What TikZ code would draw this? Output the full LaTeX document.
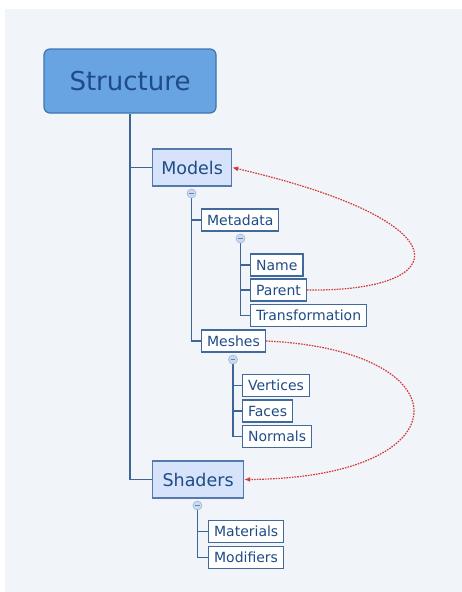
\documentclass[tikz,border=0pt]{standalone}
\usepackage{fontspec}
\setmainfont{DejaVu Sans}
\usetikzlibrary{positioning,arrows.meta,backgrounds}

\definecolor{bgpane}{HTML}{F1F4F9}
\definecolor{rootfill}{HTML}{68A4E2}
\definecolor{rootline}{HTML}{3F74B4}
\definecolor{topicfill}{HTML}{D6E3FA}
\definecolor{topicline}{HTML}{5579AC}
\definecolor{leafline}{HTML}{41699C}
\definecolor{inkblue}{HTML}{1F4C86}
\definecolor{branch}{HTML}{3D6595}
\definecolor{linkred}{HTML}{D23A3A}
\definecolor{knobfill}{HTML}{C9DAF2}
\definecolor{knobline}{HTML}{9DB6D8}

\begin{document}
\begin{tikzpicture}[
  x=1pt, y=-1pt,
  root/.style={draw=rootline, line width=1.2pt, fill=rootfill, rounded corners=6pt,
    minimum width=172pt, minimum height=64pt, text=inkblue, font=\fontsize{26}{30}\selectfont},
  topic/.style={draw=topicline, line width=1.2pt, fill=topicfill, anchor=west,
    minimum height=37pt, inner xsep=8.5pt, text=inkblue, font=\fontsize{17.5}{20}\selectfont},
  leaf/.style={draw=leafline, line width=1.2pt, fill=white, anchor=west,
    minimum height=22pt, inner xsep=5.5pt, text=inkblue, font=\fontsize{14}{16}\selectfont},
  knob/.style={circle, draw=knobline, line width=0.6pt, fill=knobfill, minimum size=9pt, inner sep=0pt,
    path picture={\draw[branch!80, line width=0.7pt] ([xshift=-2.2pt]path picture bounding box.center) -- ([xshift=2.2pt]path picture bounding box.center);}},
  tree/.style={draw=branch, line width=1.5pt},
  relink/.style={draw=linkred, line width=1.2pt, dash pattern=on 1.6pt off 1.1pt,
    -{Latex[length=6pt,width=5pt]}}
]
\useasboundingbox (0,0) rectangle (462,592);

% nodes
\node[root] (struct) at (130,81) {Structure};
\node[topic, minimum width=79pt] (models) at (152,167.5) {Models};
\node[leaf] (metadata) at (201,220) {Metadata};
\node[leaf] (name) at (250,265) {Name};
\node[leaf] (parent) at (250,290) {Parent};
\node[leaf] (transf) at (250,315.5) {Transformation};
\node[leaf] (meshes) at (201,341) {Meshes};
\node[leaf] (vertices) at (242,385.5) {Vertices};
\node[leaf] (faces) at (242,411) {Faces};
\node[leaf] (normals) at (242,436.5) {Normals};
\node[topic, minimum width=91pt] (shaders) at (152,479.5) {Shaders};
\node[leaf] (materials) at (208,531.5) {Materials};
\node[leaf] (modifiers) at (208,557.5) {Modifiers};

% collapse knobs
\node[knob] (kmodels) at (191.5,193.5) {};
\node[knob] (kmeta) at (240.5,238.5) {};
\node[knob] (kmeshes) at (233,359.5) {};
\node[knob] (kshaders) at (197.5,505.5) {};

% branches, behind the boxes
\begin{pgfonlayer}{background}
\fill[bgpane] (5,9) rectangle (462,592);
\draw[tree] (struct) |- (models.west);
\draw[tree] (struct) |- (shaders.west);
\draw[tree] (kmodels) |- (metadata.west);
\draw[tree] (kmodels) |- (meshes.west);
\draw[tree] (kmeta) |- (name.west);
\draw[tree] (kmeta) |- (parent.west);
\draw[tree] (kmeta) |- (transf.west);
\draw[tree] (kmeshes) |- (vertices.west);
\draw[tree] (kmeshes) |- (faces.west);
\draw[tree] (kmeshes) |- (normals.west);
\draw[tree] (kshaders) |- (materials.west);
\draw[tree] (kshaders) |- (modifiers.west);
\end{pgfonlayer}

% relations
\draw[relink] (parent.east) .. controls (455,292) and (467,222) .. (models.east);
\draw[relink] (meshes.east) .. controls (466,350) and (466,478) .. (shaders.east);

\end{tikzpicture}
\end{document}
